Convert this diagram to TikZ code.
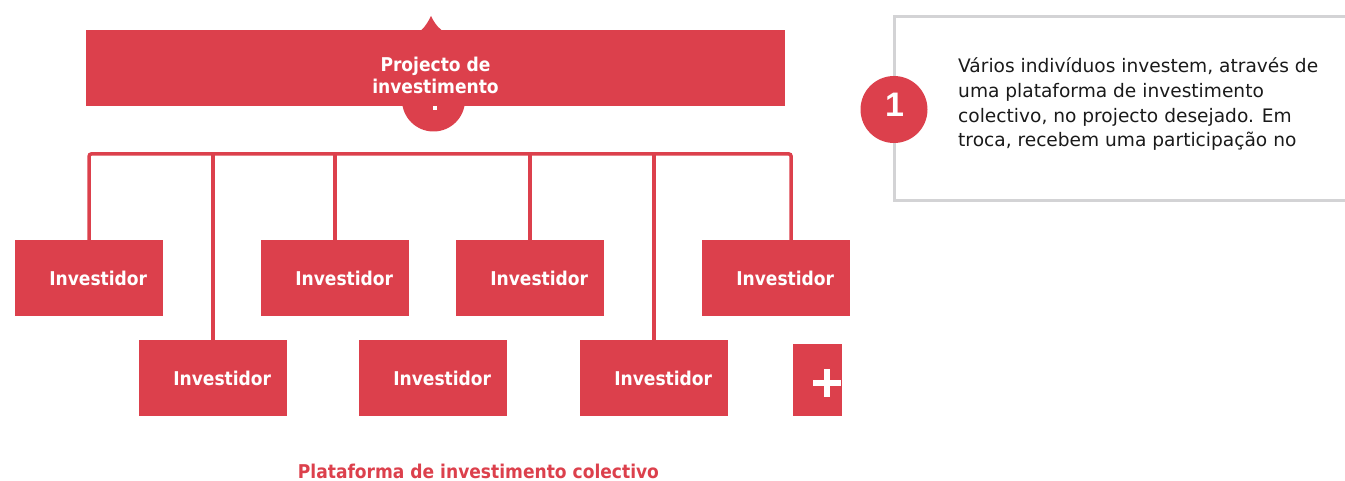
\documentclass[tikz,border=0pt]{standalone}
\usepackage{fontspec}
\setmainfont{DejaVu Sans Condensed}
\newfontfamily\wideregular{DejaVu Sans}
\newfontfamily\onefont{Liberation Sans}
\definecolor{cred}{RGB}{220,64,76}
\definecolor{cgray}{RGB}{211,211,213}
\definecolor{ctext}{RGB}{26,26,26}
\begin{document}
\begin{tikzpicture}[x=1pt,y=-1pt,
  invbox/.style={fill=cred, draw=none, minimum width=148pt, minimum height=76pt, inner sep=0pt, anchor=north west, text=white, font=\bfseries\fontsize{19}{23}\selectfont},
  conn/.style={draw=cred, line width=3.5pt},
  wtext/.style={text=white, font=\bfseries\fontsize{19}{22}\selectfont, align=center, inner sep=0pt}]
\useasboundingbox (0,0) rectangle (1345,481);

% top project shape
\fill[cred] (421,30.5) .. controls (426,26) and (429,20) .. (431,16) .. controls (433,20) and (436,26) .. (442,30.5) -- cycle;
\node[circle, fill=cred, minimum size=63pt, inner sep=0pt] (projc) at (433.5,100) {};
\node[fill=cred, minimum width=699pt, minimum height=76pt, inner sep=0pt, anchor=north west] (proj) at (86,30) {};
\node[fill=white, minimum size=4pt, inner sep=0pt] (dot) at (435,108) {};
\node[wtext, anchor=base] (projtxt) at (435.5,94) {Projecto de\\investimento};

% investor boxes
\node[invbox] (A) at (15,240) {\hspace*{18pt}Investidor};
\node[invbox] (B) at (261,240) {\hspace*{18pt}Investidor};
\node[invbox] (C) at (456,240) {\hspace*{18pt}Investidor};
\node[invbox] (D) at (702,240) {\hspace*{18pt}Investidor};
\node[invbox] (E) at (139,340) {\hspace*{18pt}Investidor};
\node[invbox] (F) at (359,340) {\hspace*{18pt}Investidor};
\node[invbox] (G) at (580,340) {\hspace*{18pt}Investidor};
\node[fill=cred, minimum width=49pt, minimum height=72pt, inner sep=0pt, anchor=north west] (more) at (793,344) {};
\fill[white] ([shift={(20,36)}]more.north west) rectangle ([shift={(48,42)}]more.north west);
\fill[white] ([shift={(31,25)}]more.north west) rectangle ([shift={(37,53)}]more.north west);

% connectors
\coordinate (busR) at (791,154);
\coordinate (dtop) at (791,240);
\draw[conn, rounded corners=2pt] (A.north) |- (busR) -- (dtop);
\draw[conn] (E.north) -- (E.north |- busR);
\draw[conn] (B.north) -- (B.north |- busR);
\draw[conn] (C.north) -- (C.north |- busR);
\draw[conn] (G.north) -- (G.north |- busR);

% right panel
\draw[cgray, line width=3.5pt] (894.5,16.5) rectangle (1380,200.5);
\node[circle, fill=cred, minimum size=67pt, inner sep=0pt] (num) at (894,109.5) {};
\node[inner sep=0pt, text=white, font=\onefont\bfseries\fontsize{34}{34}\selectfont] (numtxt) at (894.5,104.5) {1};
\node[anchor=base west, align=left, inner sep=0pt, font=\wideregular\fontsize{18.6}{24.7}\selectfont, text=ctext] (info) at (958,147) {V\'arios indiv\'iduos investem, atrav\'es de\\uma plataforma de investimento\\colectivo, no projecto desejado. Em\\troca, recebem uma participa\c{c}\~ao no};

% bottom label
\node[anchor=base, inner sep=0pt, text=cred, font=\bfseries\fontsize{19}{23}\selectfont] (plat) at (478.5,478) {Plataforma de investimento colectivo};
\end{tikzpicture}
\end{document}
